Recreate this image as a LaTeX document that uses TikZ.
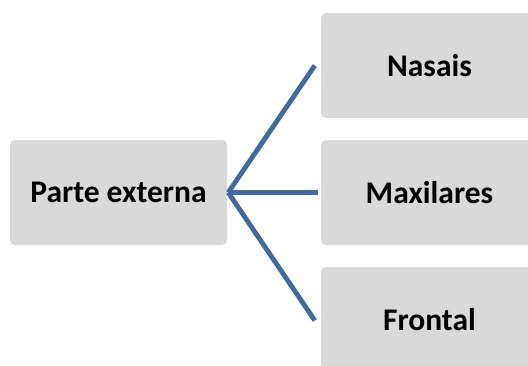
\documentclass[tikz,border=0pt]{standalone}
\usepackage{fontspec}
\setmainfont{Carlito}
\definecolor{boxgray}{RGB}{217,217,217}
\definecolor{linkblue}{RGB}{65,105,155}
\begin{document}
\begin{tikzpicture}[x=1pt,y=-1pt,
  itembox/.style={fill=boxgray, rounded corners=5pt, minimum width=217pt,
    minimum height=105pt, inner sep=0pt, font=\fontsize{31.5}{37}\selectfont\bfseries},
  link/.style={draw=linkblue, line width=4.8pt}]
  \useasboundingbox (0,0) rectangle (528,365);
  \clip (0,0) rectangle (528,365);
  % root and branch boxes
  \node[itembox] (root) at (118.5,192.5) {Parte externa};
  \node[itembox] (nasais) at (429.5,65.5) {Nasais};
  \node[itembox] (maxilares) at (429.5,192.5) {Maxilares};
  \node[itembox] (frontal) at (429.5,319.5) {Frontal};
  % connector end points just short of each branch box
  \coordinate (hub) at ([xshift=1pt]root.east);
  \coordinate (tnasais) at ([xshift=-6pt]nasais.west);
  \coordinate (tmaxilares) at ([xshift=-3pt]maxilares.west);
  \coordinate (tfrontal) at ([xshift=-6pt,yshift=-1pt]frontal.west);
  \draw[link] (hub) -- (tnasais);
  \draw[link] (hub) -- (tmaxilares);
  \draw[link] (hub) -- (tfrontal);
\end{tikzpicture}
\end{document}
